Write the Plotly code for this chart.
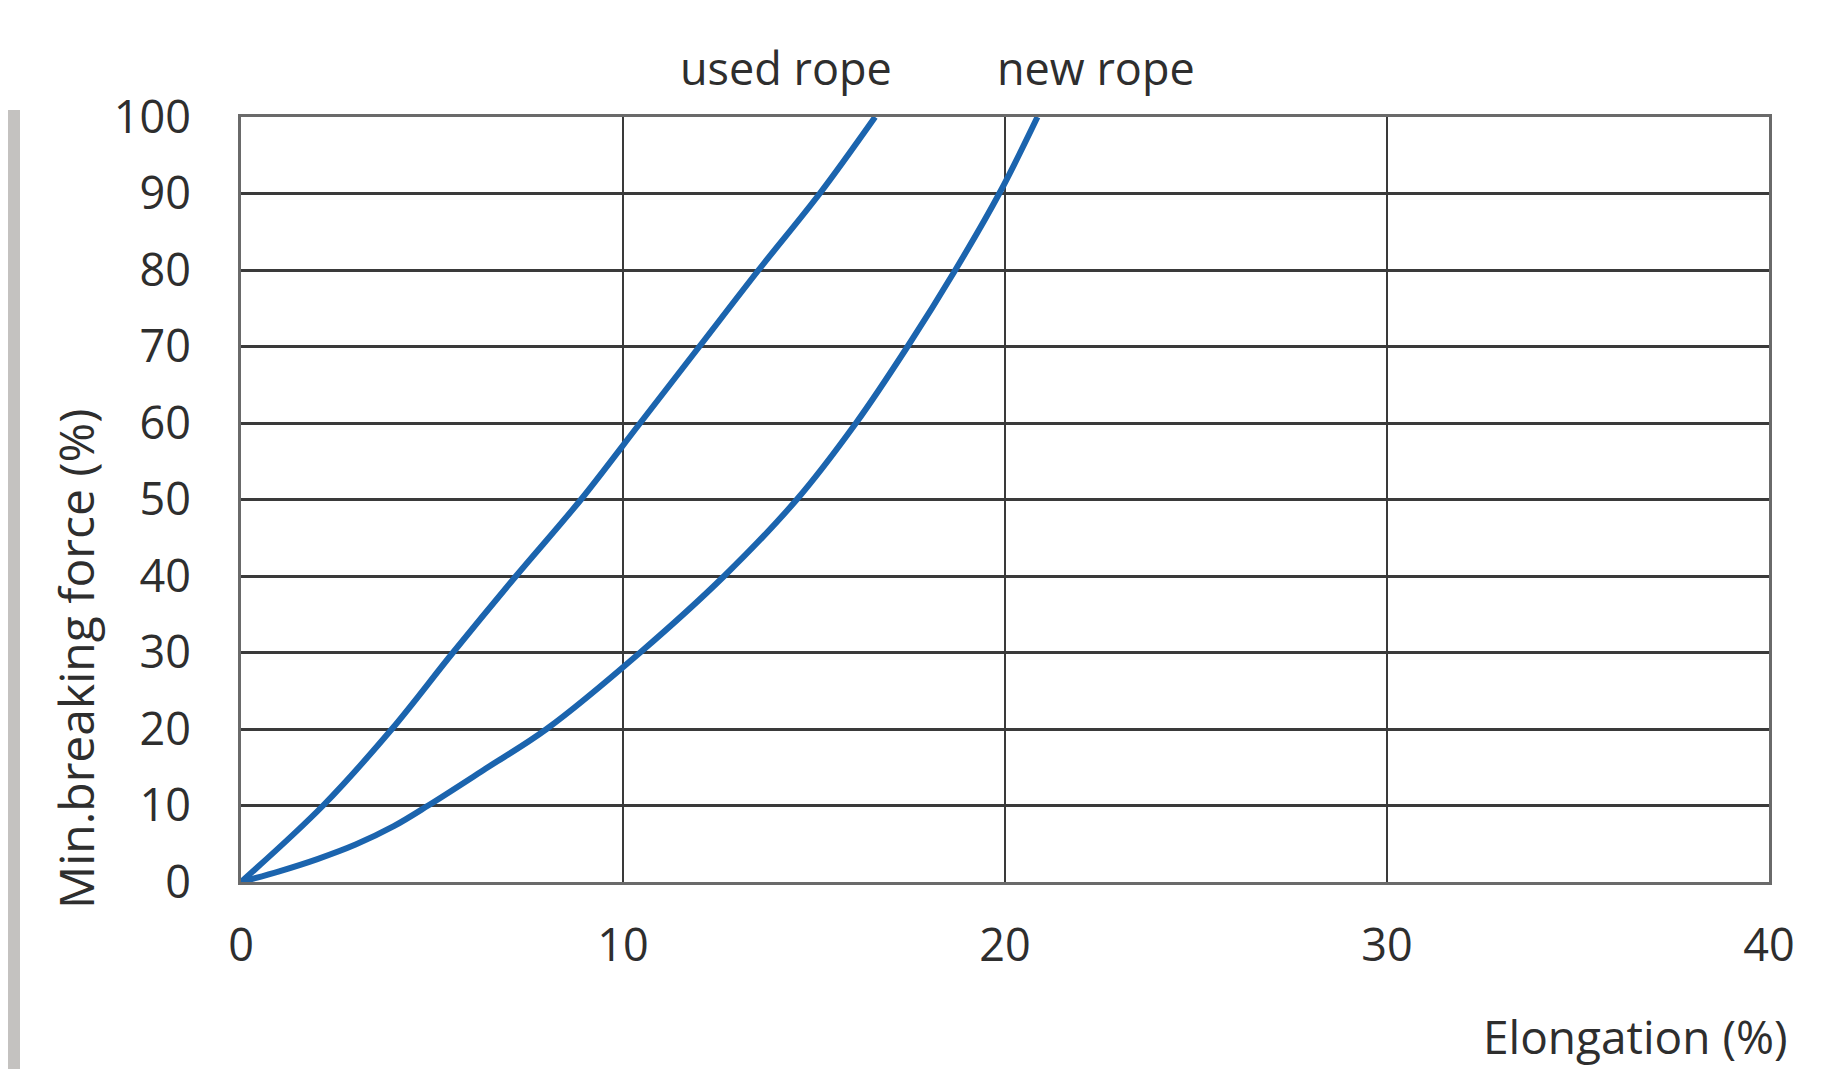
import plotly.graph_objects as go

# Data
used_x = [0, 2.15, 3.95, 5.55, 7.2, 8.9, 10.45, 12.0, 13.55, 15.15, 16.6]
used_y = [0, 10, 20, 30, 40, 50, 60, 70, 80, 90, 100]
new_x = [0, 1.0, 2.0, 3.0, 4.0, 4.9, 6.4, 8.0, 10.45, 12.65, 14.55, 16.1, 17.45, 18.7, 19.85, 20.85]
new_y = [0, 1.4, 3.0, 4.9, 7.3, 10, 14.8, 20, 30, 40, 50, 60, 70, 80, 90, 100]
x_ticks = [0, 10, 20, 30, 40]
y_ticks = [0, 10, 20, 30, 40, 50, 60, 70, 80, 90, 100]

BLUE = "#1b64ae"
TXT = "#2e2e2e"
FONT = "Open Sans"
OFF = 8  # page body margin

fig = go.Figure()
for xs, ys, nm in [(used_x, used_y, "used rope"), (new_x, new_y, "new rope")]:
    fig.add_trace(go.Scatter(x=xs, y=ys, mode="lines", name=nm,
                             line=dict(color=BLUE, width=6, shape="spline", smoothing=1.0),
                             showlegend=False, cliponaxis=True))

W, H = 1836 - 2 * OFF, 1077 - 2 * OFF
L, T = 241 - OFF, 117 - OFF
PW, PH = 1528, 765
R, B = W - L - PW, H - T - PH


def px(x):
    return (x - OFF - L) / PW


def py(y):
    return (T + PH - (y - OFF)) / PH


fig.update_layout(
    width=W, height=H,
    margin=dict(l=L, r=R, t=T, b=B),
    paper_bgcolor="white", plot_bgcolor="white",
    font=dict(family=FONT, color=TXT, size=45),
    showlegend=False,
)
fig.update_xaxes(range=[0, 40], tickvals=x_ticks, ticktext=[str(v) for v in x_ticks],
                 showgrid=True, gridcolor="#3a3a3a", gridwidth=2,
                 showline=True, linecolor="#6a6a6a", linewidth=3, mirror=True,
                 zeroline=False, ticks="", ticklabelstandoff=22,
                 tickfont=dict(family=FONT, size=45, color=TXT))
fig.update_yaxes(range=[0, 100], tickvals=y_ticks, ticktext=[str(v) for v in y_ticks],
                 showgrid=True, gridcolor="#3a3a3a", gridwidth=3,
                 showline=True, linecolor="#6a6a6a", linewidth=3, mirror=True,
                 zeroline=False, ticks="", ticklabelstandoff=38,
                 tickfont=dict(family=FONT, size=45, color=TXT))

fig.add_annotation(text="used rope", xref="paper", yref="paper", x=px(786), y=py(67),
                   xanchor="center", yanchor="middle", showarrow=False,
                   font=dict(family=FONT, size=45, color=TXT))
fig.add_annotation(text="new rope", xref="paper", yref="paper", x=px(1096), y=py(67),
                   xanchor="center", yanchor="middle", showarrow=False,
                   font=dict(family=FONT, size=45, color=TXT))
fig.add_annotation(text="Elongation (%)", xref="paper", yref="paper", x=px(1790), y=py(1036),
                   xanchor="right", yanchor="middle", showarrow=False,
                   font=dict(family=FONT, size=46, color=TXT))
fig.add_annotation(text="Min.breaking force (%)", xref="paper", yref="paper", x=px(76), y=py(659),
                   xanchor="center", yanchor="middle", showarrow=False, textangle=-90,
                   font=dict(family=FONT, size=48, color=TXT))

# grey photo edge strip on the left
fig.add_shape(type="rect", xref="paper", yref="paper",
              x0=px(0), x1=px(20), y0=py(1077), y1=py(110),
              fillcolor="#c4c2c0", line=dict(width=0), layer="below")

fig.write_html("out.html")
